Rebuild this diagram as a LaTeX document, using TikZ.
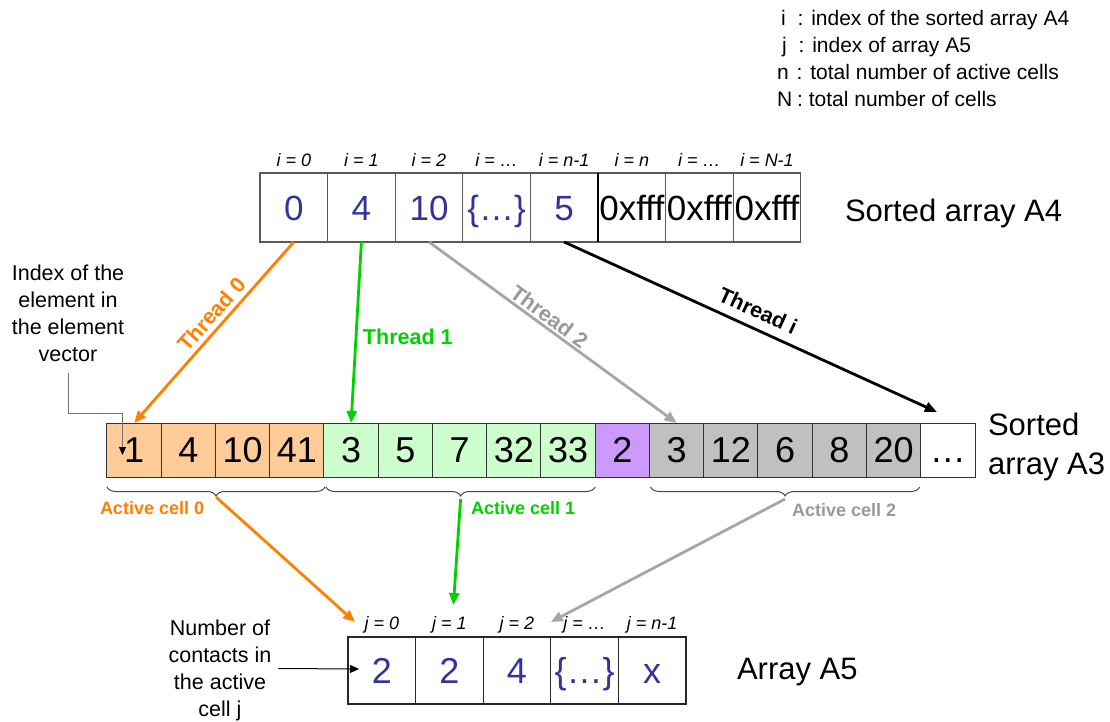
\documentclass[tikz,border=0pt]{standalone}
\usepackage{fontspec}
\setmainfont{Liberation Sans}
\usetikzlibrary{calc,arrows.meta,decorations.pathreplacing}
\definecolor{valblue}{RGB}{51,51,153}
\definecolor{cellorange}{RGB}{255,204,153}
\definecolor{cellgreen}{RGB}{204,255,204}
\definecolor{cellpurple}{RGB}{204,153,255}
\definecolor{cellgray}{RGB}{192,192,192}
\definecolor{thorange}{RGB}{255,128,0}
\definecolor{thgreen}{RGB}{0,210,0}
\definecolor{thgray}{RGB}{166,166,166}
\definecolor{labgray}{RGB}{153,153,153}
\definecolor{bracegray}{RGB}{70,70,70}
\begin{document}
\begin{tikzpicture}[x=1pt,y=-1pt,
  every node/.style={inner sep=0pt, outer sep=0pt},
  cellAfour/.style={draw=black!65, line width=1.2pt, minimum width=67.6pt, minimum height=69pt,
    font=\fontsize{35}{40}\selectfont, text height=25pt, text depth=0pt},
  cellAthree/.style={draw=black!80, line width=1pt, minimum width=54.25pt, minimum height=54pt,
    font=\fontsize{36}{40}\selectfont, text height=25.8pt, text depth=0pt},
  cellAfive/.style={draw=black!85, line width=1.2pt, minimum width=67.6pt, minimum height=67pt,
    font=\fontsize{36}{40}\selectfont, text height=25.8pt, text depth=0pt, text=valblue},
  idx/.style={font=\fontsize{18}{20}\selectfont\itshape, anchor=base},
  thread/.style={line width=2.8pt, -{Triangle[length=12pt,width=10pt]}},
  thlabel/.style={font=\fontsize{21.5}{24}\selectfont\bfseries},
  celllabel/.style={font=\fontsize{18}{20}\selectfont\bfseries, anchor=base west},
  note/.style={font=\fontsize{21.5}{27}\selectfont, align=center},
  legendline/.style={font=\fontsize{21}{27}\selectfont, anchor=base west},
  title/.style={font=\fontsize{31}{39}\selectfont, align=left},
  bracepath/.style={draw=bracegray, line width=1pt, decorate, decoration={brace, amplitude=9pt, mirror}},
  pointer/.style={draw=black!55, line width=1pt, -{Triangle[length=8pt,width=7pt,color=black]}},
  pointerb/.style={draw=black, line width=1pt, -{Triangle[length=9pt,width=8pt]}}
]
\useasboundingbox (0,0) rectangle (1110,722);

% legend
\node[legendline] (lg1) at (781,25.5) {i\hspace{12pt}: index of the sorted array A4};
\node[legendline] (lg2) at (782,52.5) {j\hspace{12pt}: index of array A5};
\node[legendline] (lg3) at (777,79.5) {n\hspace{8pt}: total number of active cells};
\node[legendline] (lg4) at (777,106.5) {N\hspace{5pt}: total number of cells};

% sorted array A4
\node[cellAfour, text=valblue] (a4c0) at (293.8,207.5) {0};
\node[cellAfour, text=valblue] (a4c1) at (361.4,207.5) {4};
\node[cellAfour, text=valblue] (a4c2) at (429.0,207.5) {10};
\node[cellAfour, text=valblue] (a4c3) at (496.6,207.5) {\{…\}};
\node[cellAfour, text=valblue] (a4c4) at (564.2,207.5) {5};
\node[cellAfour] (a4c5) at (631.8,207.5) {0xfff};
\node[cellAfour] (a4c6) at (699.4,207.5) {0xfff};
\node[cellAfour] (a4c7) at (767.0,207.5) {0xfff};
\draw[line width=2.2pt] (a4c4.north east) -- (a4c4.south east);

\foreach \k/\t in {0/{i = 0},1/{i = 1},2/{i = 2},3/{i = …},4/{i = n-1},5/{i = n},6/{i = …},7/{i = N-1}}
  \node[idx] (ia\k) at ($(a4c\k.north)+(0,-6)$) {\t};

\node[title, anchor=base west] (tA4) at (845,222) {Sorted array A4};

% sorted array A3
\node[cellAthree, fill=cellorange] (a3c0) at (134.1,450) {1};
\node[cellAthree, fill=cellorange] (a3c1) at (188.4,450) {4};
\node[cellAthree, fill=cellorange] (a3c2) at (242.6,450) {10};
\node[cellAthree, fill=cellorange] (a3c3) at (296.9,450) {41};
\node[cellAthree, fill=cellgreen] (a3c4) at (351.1,450) {3};
\node[cellAthree, fill=cellgreen] (a3c5) at (405.4,450) {5};
\node[cellAthree, fill=cellgreen] (a3c6) at (459.6,450) {7};
\node[cellAthree, fill=cellgreen] (a3c7) at (513.9,450) {32};
\node[cellAthree, fill=cellgreen] (a3c8) at (568.1,450) {33};
\node[cellAthree, fill=cellpurple] (a3c9) at (622.4,450) {2};
\node[cellAthree, fill=cellgray] (a3c10) at (676.6,450) {3};
\node[cellAthree, fill=cellgray] (a3c11) at (730.9,450) {12};
\node[cellAthree, fill=cellgray] (a3c12) at (785.1,450) {6};
\node[cellAthree, fill=cellgray] (a3c13) at (839.4,450) {8};
\node[cellAthree, fill=cellgray] (a3c14) at (893.6,450) {20};
\node[cellAthree] (a3c15) at (947.9,450) {…};

\node[title, anchor=west] (tA3) at (988,447) {Sorted\\array A3};

% braces grouping the active cells
\draw[bracepath] ($(a3c0.south west)+(0,10)$) -- coordinate[midway] (m0) ($(a3c3.south east)+(1,10)$);
\draw[bracepath] ($(a3c4.south west)+(2,10)$) -- coordinate[midway] (m1) ($(a3c8.south east)+(0,10)$);
\draw[bracepath] ($(a3c10.south west)+(1,10)$) -- coordinate[midway] (m2) ($(a3c14.south east)+(-1,10)$);
\coordinate (tip0) at ($(m0)+(0,10)$);
\coordinate (tip1) at ($(m1)+(0,12)$);
\coordinate (tip2) at ($(m2)+(0,12)$);

\node[celllabel, text=thorange] (ac0) at (100,514) {Active cell 0};
\node[celllabel, text=thgreen] (ac1) at (471,514) {Active cell 1};
\node[celllabel, text=labgray] (ac2) at (792,516) {Active cell 2};

% array A5
\node[cellAfive] (a5c0) at (381.8,670.5) {2};
\node[cellAfive] (a5c1) at (449.4,670.5) {2};
\node[cellAfive] (a5c2) at (517.0,670.5) {4};
\node[cellAfive] (a5c3) at (584.6,670.5) {\{…\}};
\node[cellAfive] (a5c4) at (652.2,670.5) {x};
\foreach \k/\t in {0/{j = 0},1/{j = 1},2/{j = 2},3/{j = …},4/{j = n-1}}
  \node[idx] (ja\k) at ($(a5c\k.north)+(0,-8)$) {\t};

\node[title, anchor=base west] (tA5) at (737,679) {Array A5};

% threads from A4 into A3
\coordinate (endi) at ($(a3c15.north)+(-11,-11)$);
\draw[thread, thorange] (a4c0.south) -- node[pos=.45, sloped, above=6pt, thlabel, text=thorange] (l0) {Thread 0} (a3c0.north);
\draw[thread, thgreen] (a4c1.south) -- node[pos=.525, right=7pt, thlabel, text=thgreen] (l1) {Thread 1} (a3c4.north);
\draw[thread, thgray] (a4c2.south) -- node[pos=.46, sloped, above=3pt, thlabel, text=labgray] (l2) {Thread 2} (a3c10.north);
\draw[thread, black] (a4c4.south) -- node[pos=.5, sloped, above=10pt, thlabel] (li) {Thread i} (endi);

% active cells into A5
\coordinate (e0) at ($(a5c0.north west)+(7,-15)$);
\coordinate (e1) at ($(a5c1.north)+(4,-32)$);
\coordinate (e2) at ($(a5c2.north east)+(0,-15)$);
\draw[thread, thorange] (tip0) -- (e0);
\draw[thread, thgreen] (tip1) -- (e1);
\draw[thread, thgray] (tip2) -- (e2);

% side notes
\node[note] (idxnote) at (68,313) {Index of the\\element in\\the element\\vector};
\coordinate (p1) at ($(a3c0.west)+(15.5,5)$);
\draw[pointer] ($(idxnote.south)+(0.5,12)$) |- ($(p1)+(0,-42)$) -- (p1);

\node[note] (numnote) at (220,670) {Number of\\contacts in\\the active\\cell j};
\coordinate (p2) at ($(a5c0.west)+(11,-1.5)$);
\draw[pointerb] ($(numnote.east)+(7,-1.5)$) -- (p2);
\end{tikzpicture}
\end{document}
